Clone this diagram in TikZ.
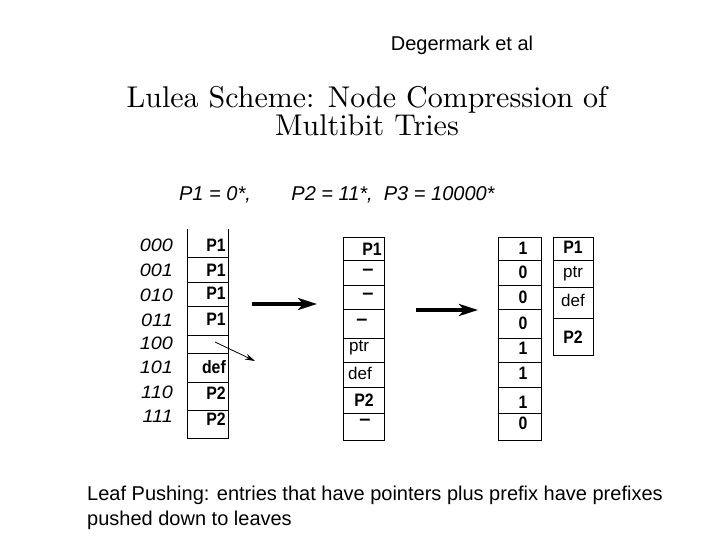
\documentclass[tikz,border=0pt]{standalone}
\usepackage{fontspec}
\newfontfamily\arialfont{Liberation Sans}
\newfontfamily\cellfont[FakeStretch=0.88]{Liberation Sans Bold}
\newfontfamily\addrfont[FakeStretch=1.1]{Liberation Sans Italic}
\newfontfamily\titlefont{lmroman10-regular}[Extension=.otf]
\usetikzlibrary{arrows.meta}

\tikzset{
    slide/.style={font=\arialfont\fontsize{20}{25}\selectfont, inner sep=0pt},
    heading/.style={font=\titlefont\fontsize{30}{24.5}\selectfont, inner sep=0pt, align=center},
    addr/.style={font=\addrfont\fontsize{18}{18}\selectfont, inner sep=0pt},
    cell/.style={font=\cellfont\fontsize{18}{18}\selectfont, inner sep=0pt},
    dash cell/.style={font=\arialfont\bfseries\fontsize{20}{20}\selectfont, inner sep=0pt},
    thin cell/.style={font=\arialfont\fontsize{17}{17}\selectfont, inner sep=0pt},
    rule/.style={line width=0.9pt},
    bigarrow/.style={line width=3.5pt, -{Stealth[length=19pt,width=12pt,inset=5pt]}},
    smallarrow/.style={line width=0.8pt, -{Stealth[length=10pt,width=6pt]}}
}

\begin{document}
\begin{tikzpicture}[x=1pt,y=-1pt]
    \useasboundingbox[fill=white] (0,0) rectangle (720,540);

    \node[slide] (auth) at (462,45) {Degermark et al};
    \node[heading] (ttl) at (367,111) {Lulea Scheme: Node Compression of\\Multibit Tries};
    \node[slide, font=\arialfont\itshape\fontsize{20}{25}\selectfont] (pone) at (215,195) {P1 = 0*,};
    \node[slide, font=\arialfont\itshape\fontsize{20}{25}\selectfont] (prest) at (393,195) {P2 = 11*,\ \ P3 = 10000*};

    \foreach \y/\t [count=\i] in {245/000,270/001,295/010,320/011,343/100,367/101,392/110,416/111}
        \node[addr, anchor=east] (ad\i) at (173,\y) {\t};

    \draw[rule] (187,229) -- (187,438) -- (228,438) -- (228,229);
    \foreach \y in {257,282,306,335,353,382,410}
        \draw[rule] (187,\y) -- (228,\y);
    \foreach \y/\t [count=\i] in {245/P1,270/P1,293/P1,319/P1,367/def,393/P2,419/P2}
        \node[cell, anchor=east] (ca\i) at (226,\y) {\t};

    \draw[rule] (343,237) rectangle (384,440);
    \foreach \y in {260,285,309,338,362,387,413}
        \draw[rule] (343,\y) -- (384,\y);
    \node[cell] (cbone) at (372,249) {P1};
    \node[cell] (cbtwo) at (364,400) {P2};
    \foreach \x/\y [count=\i] in {368/272,368/296,362/322,365/422}
        \node[dash cell] (cbdash\i) at (\x,\y) {\textendash};
    \node[thin cell] (cbptr) at (359,348) {ptr};
    \node[thin cell] (cbdef) at (360,373) {def};

    \draw[rule] (498,237) rectangle (541,440);
    \foreach \y in {260,285,309,338,362,387,413}
        \draw[rule] (498,\y) -- (541,\y);
    \foreach \y/\t [count=\i] in {248/1,272/0,297/0,323/0,348/1,373/1,402/1,423/0}
        \node[cell] (bit\i) at (523,\y) {\t};

    \draw[rule] (553,237) rectangle (593,355);
    \foreach \y in {260,287,318}
        \draw[rule] (553,\y) -- (593,\y);
    \node[cell] (cdone) at (573,247) {P1};
    \node[thin cell] (cdptr) at (573,274) {ptr};
    \node[thin cell] (cddef) at (573,300) {def};
    \node[cell] (cdtwo) at (573,337) {P2};

    \coordinate (aone) at (252,304);
    \coordinate (bone) at (317,304);
    \coordinate (atwo) at (416,310);
    \coordinate (btwo) at (478,310);
    \coordinate (pa) at (215,342);
    \coordinate (pb) at (255,361);
    \draw[bigarrow] (aone) -- (bone);
    \draw[bigarrow] (atwo) -- (btwo);
    \draw[smallarrow] (pa) -- (pb);

    \node[slide, anchor=north west, align=left] (note) at (87,486) {Leaf Pushing: entries that have pointers plus prefix have prefixes\\pushed down to leaves};
\end{tikzpicture}
\end{document}
